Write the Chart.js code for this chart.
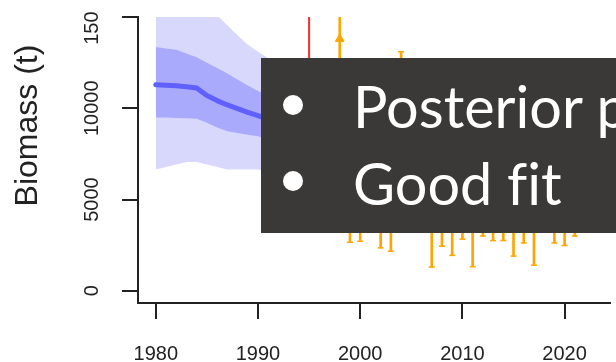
<!DOCTYPE html>
<html>
<head>
<meta charset="utf-8">
<script src="https://cdn.jsdelivr.net/npm/chart.js@4.4.1/dist/chart.umd.min.js"></script>
<style>
  html, body { margin: 0; padding: 0; background: #fff; overflow: hidden; width: 616px; height: 362px; }
  #c { position: absolute; left: 0; top: 11px; }
  #box { position: absolute; left: 261px; top: 58px; width: 355px; height: 175px; background: #3b3937; overflow: hidden; }
  .bul { position: absolute; left: 22px; width: 20px; height: 20px; border-radius: 50%; background: #fff; }
  .txt { position: absolute; left: 92px; color: #fff; white-space: nowrap; font-family: Lato, sans-serif;
    font-variant-ligatures: none; font-feature-settings: "liga" 0; }
</style>
</head>
<body>
<canvas id="c" width="616" height="351"></canvas>
<div id="box">
  <div class="bul" style="top:37px"></div>
  <div class="txt" id="t1">Posterior p</div>
  <div class="bul" style="top:113px"></div>
  <div class="txt" id="t2">Good fit</div>
</div>
<script>
// model years and biomass quantiles (t)
const years = [1980,1981,1982,1983,1984,1985,1986,1987,1988,1989,1990,
  1991,1992,1993,1994,1995,1996,1997,1998,1999,2000,
  2001,2002,2003,2004,2005,2006,2007,2008,2009,2010,
  2011,2012,2013,2014,2015,2016,2017,2018,2019,2020,
  2021,2022,2023]
const bioMed = [11290,11260,11230,11180,11110,10700,10420,10180,9980,9780,9590,
  9400,9200,9000,8800,8600,8400,8200,8000,7700,7400,
  7200,7000,6800,6700,6600,6500,6300,6200,6100,6100,
  6000,6000,6000,5900,5900,5900,5800,5800,5800,5800,
  5700,5700,5700]
const bioHi50 = [13350,13280,13200,13000,12800,12500,12200,11900,11570,11250,10940,
  10700,10450,10200,10000,9800,9600,9400,9200,8900,8600,
  8400,8200,8000,7900,7800,7700,7500,7400,7300,7300,
  7200,7200,7200,7100,7100,7100,7000,7000,7000,7000,
  6900,6900,6900]
const bioLo50 = [9500,9490,9470,9450,9420,9200,8950,8740,8640,8550,8460,
  8300,8150,8000,7800,7600,7450,7250,7050,6800,6550,
  6350,6150,5950,5850,5750,5650,5450,5350,5250,5250,
  5150,5150,5150,5050,5050,5050,4950,4950,4950,4950,
  4850,4850,4850]
const bioHi95 = [16500,16400,16300,16100,15800,15450,15100,14550,14000,13480,13100,
  12740,12350,12100,11900,11700,11500,11300,11100,10800,10500,
  10300,10100,9900,9800,9700,9600,9400,9300,9200,9200,
  9100,9100,9100,9000,9000,9000,8900,8900,8900,8900,
  8800,8800,8800]
const bioLo95 = [6640,6780,6920,7050,7060,6920,6780,6650,6640,6640,6640,
  6500,6350,6200,6050,5900,5750,5600,5450,5200,4950,
  4800,4650,4500,4400,4300,4200,4050,3950,3850,3850,
  3800,3800,3800,3700,3700,3700,3650,3650,3650,3650,
  3600,3600,3600]

// survey index with intervals
const obsYears = [1998,1999,2000,2001,2002,2003,2004,2005,2006,2007,2008,2009,2010,
  2011,2012,2013,2014,2015,2016,2017,2018,2019,2020,2021,2022]
const obsVal = [13800,7200,7000,8200,6500,6100,8400,7600,7300,4400,6300,5400,7000,
  4300,7600,6800,6800,5300,6600,4500,7900,6600,6300,7400,7800]
const obsLo = [7000,2660,2710,3500,2350,2170,4300,3600,3400,1300,2440,1940,2830,
  1320,3000,2750,2750,1900,2620,1400,3500,2620,2480,3000,3500]
const obsHi = [20000,12600,11800,12000,11400,11000,13100,12100,11800,10200,11300,10600,11700,
  10000,12000,11500,11500,10500,11300,10100,12200,11300,11100,12100,12200]

const refYear = 1995
const refSpan = [16500, 7000]

const xTicks = [1980, 1990, 2000, 2010, 2020]
const yTicks = [0, 5000, 10000, 15000]

const orange = '#ffa500'
const ink = '#222'
const tickFont = { family: '"Liberation Sans", Arial, sans-serif', size: 20 }
const pts = (xs, ys) => xs.map((x, i) => ({x: x, y: ys[i]}))

const yTitle = {
  id: 'yTitle',
  afterDraw(chart) {
    const c = chart.ctx
    c.save()
    c.translate(37, 114.5)
    c.rotate(-Math.PI / 2)
    c.font = '32px "Liberation Sans", Arial, sans-serif'
    c.fillStyle = ink
    c.textAlign = 'center'
    c.textBaseline = 'alphabetic'
    c.fillText('Biomass (t)', 0, 0)
    c.restore()
  }
}

new Chart('c', {
  type: 'line',
  data: {
    datasets: [
      { data: pts(years, bioMed), borderColor: '#6060fe', borderWidth: 5, pointRadius: 0,
        borderCapStyle: 'round', borderJoinStyle: 'round', fill: false },
      { data: [{x: refYear, y: refSpan[0]}, {x: refYear, y: refSpan[1]}], borderColor: '#ff2a2a',
        borderWidth: 2, pointRadius: 0, fill: false },
      { type: 'scatter', data: pts(obsYears, obsVal), pointStyle: 'triangle', pointRadius: 5,
        backgroundColor: orange, borderColor: orange, borderWidth: 1 },
      { type: 'scatter', data: pts(obsYears, obsHi), pointStyle: 'line', pointRadius: 3,
        borderColor: orange, borderWidth: 1.5 },
      { type: 'scatter', data: pts(obsYears, obsLo), pointStyle: 'line', pointRadius: 3,
        borderColor: orange, borderWidth: 1.5 },
      { type: 'bar', data: obsYears.map((x, i) => ({x: x, y: [obsLo[i], obsHi[i]]})),
        backgroundColor: orange, barThickness: 2, borderWidth: 0 },
      { data: pts(years, bioHi50), borderColor: 'rgba(0,0,0,0)', pointRadius: 0, fill: '+1', backgroundColor: '#aaaafd' },
      { data: pts(years, bioLo50), borderColor: 'rgba(0,0,0,0)', pointRadius: 0, fill: false },
      { data: pts(years, bioHi95), borderColor: 'rgba(0,0,0,0)', pointRadius: 0, fill: '+1', backgroundColor: '#d8d8fd' },
      { data: pts(years, bioLo95), borderColor: 'rgba(0,0,0,0)', pointRadius: 0, fill: false }
    ]
  },
  options: {
    responsive: false,
    devicePixelRatio: 1,
    animation: false,
    layout: { padding: 0 },
    plugins: { legend: { display: false }, tooltip: { enabled: false }, title: { display: false } },
    scales: {
      x: {
        type: 'linear', position: 'bottom', min: 1978.26, max: 2024.44, offset: false,
        afterBuildTicks: s => { s.ticks = xTicks.map(v => ({value: v})) },
        afterFit: s => { s.height = 59; s.paddingLeft = 0; s.paddingRight = 0 },
        grid: { drawOnChartArea: false, drawTicks: true, tickLength: 16, color: ink, lineWidth: 2, offset: false },
        border: { display: true, color: ink, width: 2 },
        ticks: { autoSkip: false, maxRotation: 0, padding: 23, color: ink, font: tickFont,
          callback: v => String(v) }
      },
      y: {
        type: 'linear', min: -670, max: 15000,
        afterBuildTicks: s => { s.ticks = yTicks.map(v => ({value: v})) },
        afterFit: s => { s.width = 138; s.paddingTop = 0; s.paddingBottom = 0 },
        grid: { drawOnChartArea: false, drawTicks: true, tickLength: 16, color: ink, lineWidth: 2 },
        border: { display: true, color: ink, width: 2 },
        ticks: { autoSkip: false, minRotation: 90, maxRotation: 90, crossAlign: 'center', padding: 2, color: ink,
          font: tickFont, callback: v => String(v) }
      }
    }
  },
  plugins: [yTitle]
})

// overlay text: fit the first line's width and set baselines
const m = document.createElement('canvas').getContext('2d')
m.font = '100px Lato'
const fs = 100 * 230 / m.measureText('Posterior').width
m.font = fs + 'px Lato'
const mt = m.measureText('Posterior')
const asc = mt.fontBoundingBoxAscent, desc = mt.fontBoundingBoxDescent
const baselines = [128 - 58, 204.7 - 58]
;['t1', 't2'].forEach((id, i) => {
  const el = document.getElementById(id)
  el.style.fontSize = fs + 'px'
  el.style.lineHeight = (asc + desc) + 'px'
  el.style.top = (baselines[i] - asc) + 'px'
})
</script>
</body>
</html>
